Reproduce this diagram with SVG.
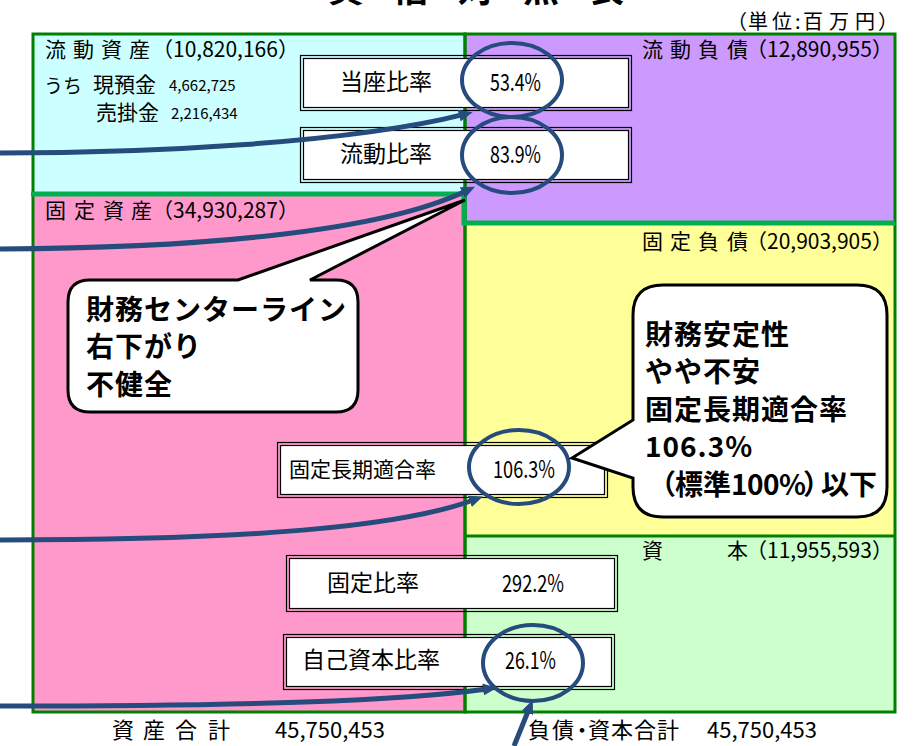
<svg xmlns="http://www.w3.org/2000/svg" width="922" height="746" viewBox="0 0 922 746">
<defs>
<style>
text{font-family:'Noto Sans CJK JP','Noto Sans',sans-serif;fill:#000}
.lb{font-size:21px}
.tot{font-size:22px}
.sm{font-size:15px}
.bt{font-size:23px}
.pc{font-size:24px}
.ct{font-size:28px;font-weight:bold;letter-spacing:1px}
.fr{fill:none;stroke:#008000;stroke-width:3}
.cl{fill:none;stroke:#00B050;stroke-width:5}
.bo{fill:none;stroke:#000;stroke-width:1.2}
.bi{fill:#fff;stroke:#000;stroke-width:1.2}
.el{fill:none;stroke:#264B7D;stroke-width:4}
.ar{fill:none;stroke:#264B7D;stroke-width:5;marker-end:url(#ah)}
.co{fill:#fff;stroke:#000;stroke-width:3;stroke-linejoin:miter}
</style>
<marker id="ah" markerUnits="userSpaceOnUse" markerWidth="14" markerHeight="12" refX="4" refY="6" orient="auto" viewBox="0 0 14 12"><path d="M0,0 L14,6 L0,12 z" fill="#264B7D"/></marker>
</defs>
<rect width="922" height="746" fill="#fff"/>
<text x="328" y="2" font-size="36" font-weight="bold" letter-spacing="29">貸借対照表</text>
<text x="727 748 772 795 803 829 855 878" y="29" font-size="20">（単位:百万円）</text>

<g id="current-assets">
<rect x="33" y="34" width="432" height="160" fill="#CCFFFF"/>
<text class="lb" x="45 66 73 94 101 122 129 152" y="57">流 動 資 産（10,820,166）</text>
<text x="44" y="93" font-size="19">うち</text>
<text class="lb" x="93" y="92">現預金</text>
<text class="sm" x="169" y="91">4,662,725</text>
<text class="lb" x="96" y="120">売掛金</text>
<text class="sm" x="171" y="119">2,216,434</text>
</g>
<g id="fixed-assets">
<rect x="33" y="194" width="432" height="518" fill="#FF99CC"/>
<text class="lb" x="45 66 74 95 103 124 131 152" y="218">固 定 資 産（34,930,287）</text>
</g>
<g id="current-liabilities">
<rect x="465" y="34" width="430" height="189" fill="#CC99FF"/>
<text class="lb" x="642 663 670 691 698 719 727 746" y="57">流 動 負 債（12,890,955）</text>
</g>
<g id="fixed-liabilities">
<rect x="465" y="223" width="430" height="313" fill="#FFFF99"/>
<text class="lb" x="642 663 670 691 698 719 727 746" y="249">固 定 負 債（20,903,905）</text>
</g>
<g id="equity">
<rect x="465" y="536" width="430" height="176" fill="#CCFFCC"/>
<text class="lb" x="642 663 684 705 727 746" y="558">資　　　本（11,955,593）</text>
</g>
<g id="frames">
<rect class="fr" x="33" y="34" width="432" height="678"/>
<rect class="fr" x="465" y="34" width="430" height="678"/>
<line class="fr" x1="465" y1="536" x2="895" y2="536"/>
<polyline class="cl" points="31,194 464,194 464,223 895,223"/>
</g>
<g id="totals">
<text class="tot" x="112 133 143 164 175 196 208 229 275" y="738">資 産 合 計　45,750,453</text>
<text class="tot" x="528 552 571 588 611 634 657 680 707" y="738">負債・資本合計　45,750,453</text>
</g>

<g id="ratio-touza">
<rect class="bo" x="300.5" y="55.5" width="331" height="55"/>
<rect class="bi" x="303.5" y="58.5" width="325" height="49"/>
<text class="bt" x="340" y="90">当座比率</text>
<text class="pc" x="490" y="91" textLength="51" lengthAdjust="spacingAndGlyphs">53.4%</text>
</g>
<g id="ratio-ryudo">
<rect class="bo" x="300.5" y="127.5" width="331" height="55"/>
<rect class="bi" x="303.5" y="130.5" width="325" height="49"/>
<text class="bt" x="340" y="162">流動比率</text>
<text class="pc" x="490" y="163" textLength="51" lengthAdjust="spacingAndGlyphs">83.9%</text>
</g>
<g id="ratio-koteichoki">
<rect class="bo" x="277.5" y="442.5" width="330" height="55"/>
<rect class="bi" x="280.5" y="445.5" width="324" height="49"/>
<text class="lb" x="289" y="477">固定長期適合率</text>
<text class="pc" x="493" y="478" textLength="62" lengthAdjust="spacingAndGlyphs">106.3%</text>
</g>
<g id="ratio-kotei">
<rect class="bo" x="286.5" y="555.5" width="331" height="56"/>
<rect class="bi" x="289.5" y="558.5" width="325" height="50"/>
<text class="bt" x="327" y="591">固定比率</text>
<text class="pc" x="502" y="592" textLength="62" lengthAdjust="spacingAndGlyphs">292.2%</text>
</g>
<g id="ratio-jiko">
<rect class="bo" x="283.5" y="634.5" width="331" height="55"/>
<rect class="bi" x="286.5" y="637.5" width="325" height="49"/>
<text class="bt" x="302" y="668">自己資本比率</text>
<text class="pc" x="505" y="669" textLength="51" lengthAdjust="spacingAndGlyphs">26.1%</text>
</g>

<g id="highlights">
<ellipse class="el" cx="512" cy="80" rx="50" ry="37"/>
<ellipse class="el" cx="512" cy="155" rx="50" ry="38"/>
<ellipse class="el" cx="519" cy="467" rx="50" ry="37"/>
<ellipse class="el" cx="533" cy="663" rx="50" ry="38"/>
</g>

<g id="callout-centerline">
<path class="co" d="M90,280 L238,280 L465,200 L310,280 L336,280 Q358,280 358,302 L358,390 Q358,412 336,412 L90,412 Q68,412 68,390 L68,302 Q68,280 90,280 Z"/>
<text class="ct" x="86" y="320">財務センターライン</text>
<text class="ct" x="86" y="357">右下がり</text>
<text class="ct" x="86" y="395">不健全</text>
</g>
<g id="callout-stability">
<path class="co" d="M663,285 L857,285 Q887,285 887,315 L887,487 Q887,517 857,517 L663,517 Q633,517 633,487 L633,478 L572,458 L633,420 L633,315 Q633,285 663,285 Z"/>
<text class="ct" x="645" y="345">財務安定性</text>
<text class="ct" x="645" y="382">やや不安</text>
<text class="ct" x="645" y="420">固定長期適合率</text>
<text class="ct" x="645" y="457" letter-spacing="2">106.3%</text>
<text class="ct" x="648 675 703 731 747 763 779 803 821 849" y="495" letter-spacing="0">（標準100%）以下</text>
</g>

<g id="connectors">
<path class="ar" d="M0,153 C150,153 350,143 463,114.6"/>
<path class="ar" d="M0,249 C200,248 380,232 466,191"/>
<path class="ar" d="M0,540 C250,540 400,527 473.5,500"/>
<path class="ar" d="M0,706 C250,706 400,701 487,689"/>
<path class="ar" d="M514,746 L529,709"/>
</g>
</svg>
